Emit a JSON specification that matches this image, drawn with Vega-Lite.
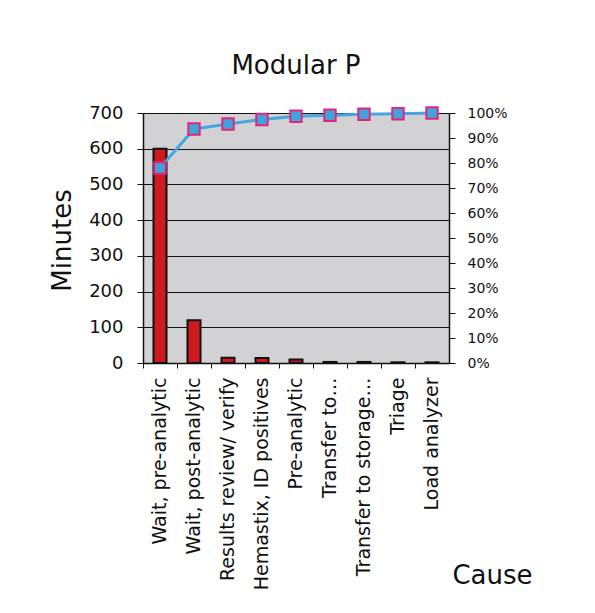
{
  "$schema": "https://vega.github.io/schema/vega-lite/v6.json",
  "autosize": {"type": "none"},
  "padding": {"left": 143, "top": 113, "right": 146, "bottom": 250},
  "width": 306,
  "height": 250,
  "background": "white",
  "title": {
    "text": "Modular P",
    "font": "DejaVu Sans",
    "fontSize": 26,
    "fontWeight": "normal",
    "color": "#111111",
    "anchor": "middle",
    "baseline": "alphabetic",
    "offset": 3
  },
  "data": {
    "values": [
      {"cause": "Wait, pre-analytic", "minutes": 600, "cum": 0.78},
      {"cause": "Wait, post-analytic", "minutes": 120, "cum": 0.936},
      {"cause": "Results review/ verify", "minutes": 15, "cum": 0.956},
      {"cause": "Hemastix, ID positives", "minutes": 14, "cum": 0.974},
      {"cause": "Pre-analytic", "minutes": 10, "cum": 0.987},
      {"cause": "Transfer to…", "minutes": 3, "cum": 0.991},
      {"cause": "Transfer to storage…", "minutes": 3, "cum": 0.995},
      {"cause": "Triage", "minutes": 2, "cum": 0.997},
      {"cause": "Load analyzer", "minutes": 2, "cum": 1.0}
    ]
  },
  "encoding": {
    "x": {
      "field": "cause",
      "type": "nominal",
      "sort": null,
      "scale": {"paddingInner": 0, "paddingOuter": 0},
      "axis": {
        "title": "Cause",
        "titleFont": "DejaVu Sans",
        "titleFontSize": 26,
        "titleFontWeight": "normal",
        "titleColor": "#111111",
        "titleX": 349,
        "titleY": 212,
        "titleAlign": "center",
        "titleBaseline": "middle",
        "labelAngle": -90,
        "labelAlign": "right",
        "labelBaseline": "middle",
        "labelFont": "DejaVu Sans",
        "labelFontSize": 19,
        "labelColor": "#111111",
        "labelLimit": 400,
        "labelPadding": 9,
        "bandPosition": 0,
        "ticks": true,
        "tickSize": 5,
        "tickColor": "#111111",
        "domainColor": "#111111",
        "domainWidth": 1.5,
        "grid": false
      }
    }
  },
  "layer": [
    {
      "mark": {"type": "bar", "size": 13, "fill": "#cc1a1f", "stroke": "#111111", "strokeWidth": 2},
      "encoding": {
        "y": {
          "field": "minutes",
          "type": "quantitative",
          "scale": {"domain": [0, 700]},
          "axis": {
            "title": "Minutes",
            "titleFont": "DejaVu Sans",
            "titleFontSize": 26,
            "titleFontWeight": "normal",
            "titleColor": "#111111",
            "titleX": -81,
            "titleY": 127,
            "titleAngle": -90,
            "titleAlign": "center",
            "titleBaseline": "middle",
            "values": [0, 100, 200, 300, 400, 500, 600, 700],
            "labelFont": "DejaVu Sans",
            "labelFontSize": 18,
            "labelColor": "#111111",
            "labelPadding": 14,
            "tickSize": 6,
            "tickColor": "#111111",
            "domainColor": "#111111",
            "domainWidth": 1.5,
            "grid": true,
            "gridColor": "#111111",
            "gridWidth": 1,
            "gridOpacity": 1
          }
        }
      }
    },
    {
      "mark": {"type": "line", "color": "#45a6e0", "strokeWidth": 3},
      "encoding": {
        "y": {
          "field": "cum",
          "type": "quantitative",
          "scale": {"domain": [0, 1]},
          "axis": {
            "orient": "right",
            "title": null,
            "format": ".0%",
            "values": [0, 0.1, 0.2, 0.3, 0.4, 0.5, 0.6, 0.7, 0.8, 0.9, 1.0],
            "labelFont": "DejaVu Sans",
            "labelFontSize": 14,
            "labelColor": "#111111",
            "labelPadding": 12,
            "tickSize": 6,
            "tickColor": "#111111",
            "domainColor": "#111111",
            "domainWidth": 1.5,
            "grid": false
          }
        }
      }
    },
    {
      "mark": {"type": "point", "shape": "square", "filled": true, "size": 130, "fill": "#3fa4dc", "stroke": "#e3267c", "strokeWidth": 2, "opacity": 1},
      "encoding": {
        "y": {"field": "cum", "type": "quantitative", "scale": {"domain": [0, 1]}, "axis": null}
      }
    }
  ],
  "resolve": {"scale": {"y": "independent"}},
  "config": {
    "view": {"fill": "#d2d2d4", "stroke": null}
  }
}
